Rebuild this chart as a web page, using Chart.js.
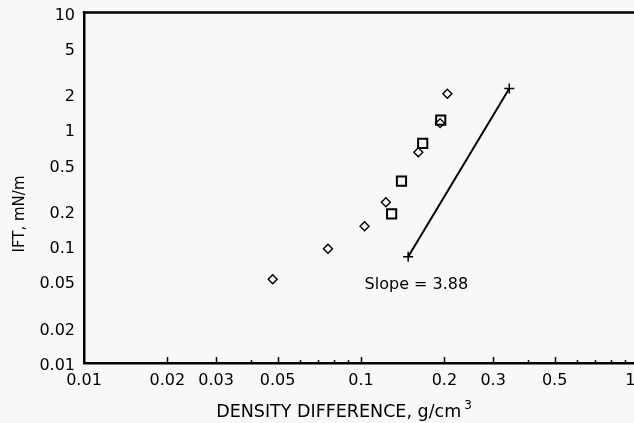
<!DOCTYPE html>
<html>
<head>
<meta charset="utf-8">
<title>IFT vs density difference</title>
<script src="https://cdn.jsdelivr.net/npm/chart.js@4.4.1/dist/chart.umd.min.js"></script>
<style>
  html, body { margin: 0; padding: 0; background: #f8f8f8; overflow: hidden; }
  #wrap { width: 634px; height: 423px; overflow: hidden; }
  canvas { display: block; }
</style>
</head>
<body>
<div id="wrap"><canvas id="chart" width="680" height="423"></canvas></div>
<script>
// Measured IFT (mN/m) against phase density difference (g/cm3)
const diamondX = [0.048, 0.076, 0.103, 0.123, 0.161, 0.193, 0.205];
const diamondY = [0.052, 0.095, 0.148, 0.238, 0.638, 1.13, 2.02];

const squareX = [0.129, 0.140, 0.167, 0.194];
const squareY = [0.189, 0.360, 0.758, 1.20];

// Fitted power-law line, end points
const fitX = [0.148, 0.343];
const fitY = [0.081, 2.24];
const fitLabel = 'Slope = 3.88';
const fitLabelAt = [0.1585, 0.0467];

// Axis ticks and labels (the last x label sits at the frame edge, padded so it stays in view)
const xTicks = [0.01, 0.02, 0.03, 0.05, 0.1, 0.2, 0.3, 0.5, 1];
const xTickLabels = ['0.01', '0.02', '0.03', '0.05', '0.1', '0.2', '0.3', '0.5', '1   '];
const yTicks = [0.01, 0.02, 0.05, 0.1, 0.2, 0.5, 1, 2, 5, 10];
const yTickLabels = ['0.01', '0.02', '0.05', '0.1', '0.2', '0.5', '1', '2', '5', '10'];

const xTitle = 'DENSITY DIFFERENCE, g/cm';
const xTitleSup = '3';
const yTitle = 'IFT, mN/m';

const FONT = 'DejaVu Sans';
const INK = '#000';

const toPoints = (xs, ys) => xs.map((x, i) => ({ x, y: ys[i] }));

// Frame, inward tick marks, annotation and axis titles
const decor = {
  id: 'decor',
  beforeDraw(chart) {
    const { ctx } = chart;
    ctx.save();
    ctx.fillStyle = '#f8f8f8';
    ctx.fillRect(0, 0, chart.width, chart.height);
    ctx.restore();
  },
  afterDraw(chart) {
    const { ctx, chartArea: a, scales: { x, y } } = chart;
    ctx.save();
    ctx.strokeStyle = INK;
    ctx.lineWidth = 2.5;
    ctx.beginPath();
    ctx.moveTo(a.left - 1.25, a.top);
    ctx.lineTo(a.right, a.top);
    ctx.lineTo(a.right, a.bottom);
    ctx.stroke();

    // inward ticks along the x axis
    ctx.lineWidth = 1.5;
    for (let d = 0.01; d < 1; d *= 10) {
      for (let m = 1; m <= 9; m++) {
        const v = d * m;
        if (Math.abs(v - 0.01) < 1e-9) continue;
        const major = xTicks.some(t => Math.abs(t - v) < 1e-9);
        const px = Math.round(x.getPixelForValue(v)) + 0.5;
        const len = major ? 6 : 3;
        ctx.beginPath();
        ctx.moveTo(px, a.bottom);
        ctx.lineTo(px, a.bottom - len);
        ctx.stroke();
      }
    }

    // slope annotation
    ctx.fillStyle = INK;
    ctx.font = '16px "' + FONT + '"';
    ctx.textAlign = 'center';
    ctx.textBaseline = 'middle';
    ctx.fillText(fitLabel, x.getPixelForValue(fitLabelAt[0]), y.getPixelForValue(fitLabelAt[1]));

    // x axis title with superscript
    ctx.font = '17.5px "' + FONT + '"';
    const w1 = ctx.measureText(xTitle).width;
    ctx.font = '12px "' + FONT + '"';
    const w2 = ctx.measureText(xTitleSup).width;
    const cx = 344;
    const startX = cx - (w1 + 3 + w2) / 2;
    ctx.textAlign = 'left';
    ctx.font = '17.5px "' + FONT + '"';
    ctx.fillText(xTitle, startX, 412);
    ctx.font = '12px "' + FONT + '"';
    ctx.fillText(xTitleSup, startX + w1 + 3, 406);

    // y axis title
    ctx.translate(20, 214);
    ctx.rotate(-Math.PI / 2);
    ctx.textAlign = 'center';
    ctx.font = '15px "' + FONT + '"';
    ctx.fillText(yTitle, 0, 0);
    ctx.restore();
  }
};

new Chart(document.getElementById('chart'), {
  type: 'scatter',
  data: {
    datasets: [
      {
        label: 'squares',
        data: toPoints(squareX, squareY),
        pointStyle: 'rect',
        pointRadius: 6.5,
        borderWidth: 2,
        borderColor: INK,
        backgroundColor: 'rgba(0,0,0,0)'
      },
      {
        label: 'diamonds',
        data: toPoints(diamondX, diamondY),
        pointStyle: 'rectRot',
        pointRadius: 4.5,
        borderWidth: 1.4,
        borderColor: INK,
        backgroundColor: 'rgba(0,0,0,0)'
      },
      {
        label: 'fit',
        type: 'line',
        data: toPoints(fitX, fitY),
        showLine: true,
        borderColor: INK,
        borderWidth: 2,
        pointStyle: 'cross',
        pointRadius: 5,
        pointBorderWidth: 1.5,
        pointBorderColor: INK,
        fill: false
      }
    ]
  },
  options: {
    responsive: false,
    animation: false,
    events: [],
    layout: { padding: { top: 12.5, right: 42, left: 0, bottom: 0 } },
    plugins: { legend: { display: false }, tooltip: { enabled: false } },
    scales: {
      x: {
        type: 'logarithmic',
        position: 'bottom',
        min: 0.01,
        max: 1,
        afterFit: s => { s.height = 60; s.paddingLeft = 0; s.paddingRight = 0; },
        afterBuildTicks: s => { s.ticks = xTicks.map(v => ({ value: v, major: true })); },
        grid: { display: false, drawTicks: false },
        border: { display: true, color: INK, width: 2.5 },
        ticks: {
          autoSkip: false, maxRotation: 0, minRotation: 0, padding: 8,
          color: INK, font: { family: FONT, size: 16 },
          callback: (v, i) => xTickLabels[i]
        }
      },
      y: {
        type: 'logarithmic',
        position: 'left',
        min: 0.01,
        max: 10,
        afterFit: s => { s.width = 84; s.paddingTop = 0; s.paddingBottom = 0; },
        afterBuildTicks: s => { s.ticks = yTicks.map(v => ({ value: v, major: true })); },
        grid: { display: false, drawTicks: false },
        border: { display: true, color: INK, width: 2.5 },
        ticks: {
          autoSkip: false, padding: 9, labelOffset: 3,
          color: INK, font: { family: FONT, size: 16 },
          callback: (v, i) => yTickLabels[i]
        }
      }
    }
  },
  plugins: [decor]
});
</script>
</body>
</html>
